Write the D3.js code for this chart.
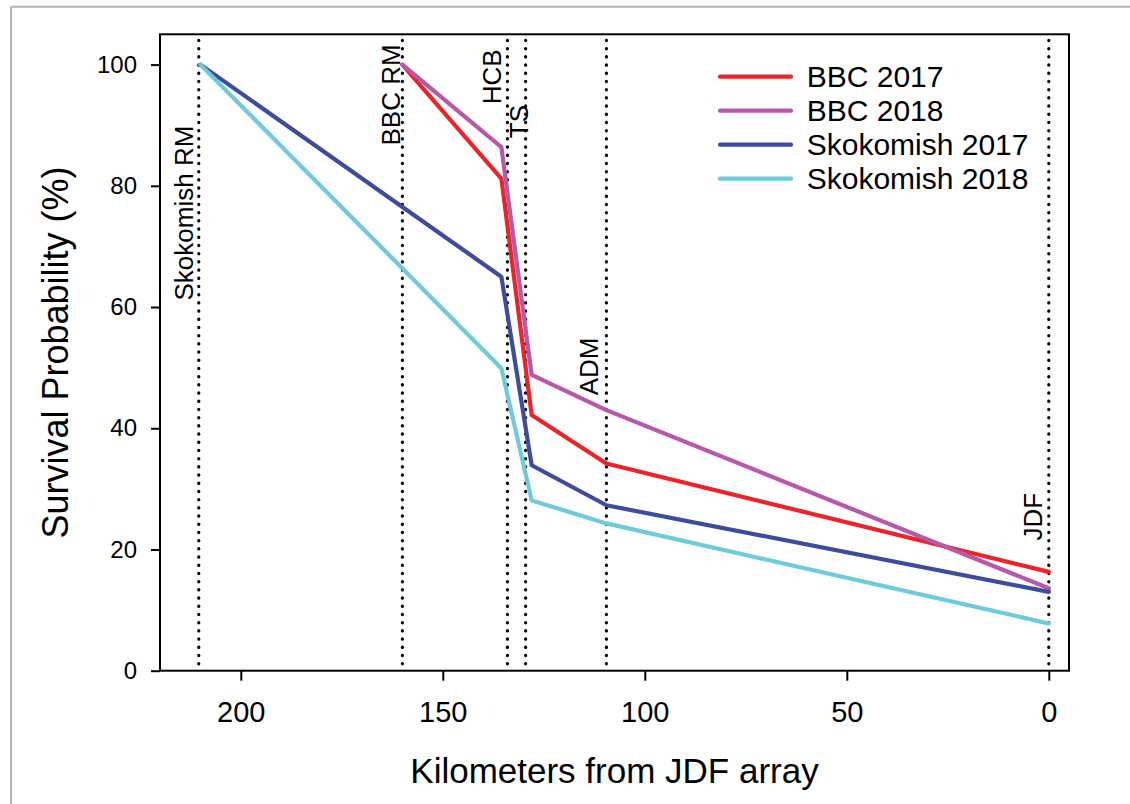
<!DOCTYPE html>
<html>
<head>
<meta charset="utf-8">
<script src="https://cdn.jsdelivr.net/npm/d3@7"></script>
<style>
  html, body { margin: 0; padding: 0; background: #fff; }
  svg { display: block; font-family: "Liberation Sans", Arial, sans-serif; }
</style>
</head>
<body>
<svg id="chart" width="1130" height="804"></svg>
<script>
// ---- data ----
const seriesNames = ["BBC 2017", "BBC 2018", "Skokomish 2017", "Skokomish 2018"];
const seriesColors = ["#EE2229", "#B957A9", "#3D4C9E", "#6DCBDA"];
const bbcKm = [160, 135.5, 128, 109.5, 0];
const skokKm = [210, 135.5, 128, 109.5, 0];
const bbc2017 = [100, 81.2, 42.2, 34.2, 16.3];
const bbc2018 = [100, 86.4, 48.8, 43.0, 13.6];
const skok2017 = [100, 65.0, 33.9, 27.3, 13.0];
const skok2018 = [100, 49.9, 28.1, 24.3, 7.8];
const seriesKm = [bbcKm, bbcKm, skokKm, skokKm];
const seriesVals = [bbc2017, bbc2018, skok2017, skok2018];

const siteNames = ["Skokomish RM", "BBC RM", "HCB", "TS", "ADM", "JDF"];
const siteKm = [210.4, 160, 134, 129.5, 109.5, 0];
const siteLabelKm = [211.8, 160.7, 135.7, 128.8, 111.7, 1.7];
const siteLabelY = [75.5, 95, 98, 90.6, 50.2, 25.4];

const xTicks = [200, 150, 100, 50, 0];
const yTicks = [0, 20, 40, 60, 80, 100];
const xTitle = "Kilometers from JDF array";
const yTitle = "Survival Probability (%)";

// ---- layout ----
const svg = d3.select("#chart");
const L = 160, R = 1069, T = 34.3, B = 670.7;
const x = d3.scaleLinear().domain([220, -5]).range([L, R]);
const y = d3.scaleLinear().domain([0, 105]).range([B, T]);

// outer gray frame (partial, as in reference)
svg.append("line").attr("x1", 11).attr("x2", 11).attr("y1", 6.7).attr("y2", 804)
  .attr("stroke", "#b3b3b3").attr("stroke-width", 2);
svg.append("line").attr("x1", 11).attr("x2", 1130).attr("y1", 6.7).attr("y2", 6.7)
  .attr("stroke", "#b3b3b3").attr("stroke-width", 2);

svg.append("defs").append("clipPath").attr("id", "clip")
  .append("rect").attr("x", L).attr("y", T).attr("width", R - L).attr("height", B - T);

// dotted site lines
const plot = svg.append("g").attr("clip-path", "url(#clip)");
plot.selectAll("line.site").data(siteKm).join("line")
  .attr("class", "site")
  .attr("x1", d => x(d)).attr("x2", d => x(d))
  .attr("y1", T + 6).attr("y2", B)
  .attr("stroke", "#000").attr("stroke-width", 3.2)
  .attr("stroke-linecap", "round")
  .attr("stroke-dasharray", "0.3,7.9");

// series lines
const line = d3.line().x(d => x(d[0])).y(d => y(d[1]));
seriesNames.forEach((name, i) => {
  const pts = seriesKm[i].map((k, j) => [k, seriesVals[i][j]]);
  plot.append("path").datum(pts)
    .attr("d", line)
    .attr("fill", "none")
    .attr("stroke", seriesColors[i])
    .attr("stroke-width", 4.2)
    .attr("stroke-linejoin", "round")
    .attr("stroke-linecap", "round");
});

// site labels (rotated)
siteNames.forEach((name, i) => {
  const tx = x(siteLabelKm[i]), ty = y(siteLabelY[i]);
  svg.append("text")
    .attr("transform", `translate(${tx},${ty}) rotate(-90)`)
    .attr("text-anchor", "middle")
    .attr("font-size", 26)
    .attr("fill", "#000")
    .text(name);
});

// box
svg.append("rect").attr("x", L).attr("y", T).attr("width", R - L).attr("height", B - T)
  .attr("fill", "none").attr("stroke", "#000").attr("stroke-width", 2);

// axes
const yAxis = svg.append("g").attr("transform", `translate(${L},0)`)
  .call(d3.axisLeft(y).tickValues(yTicks).tickSize(9).tickPadding(14));
yAxis.select(".domain").remove();
yAxis.selectAll("line").attr("stroke-width", 2);
yAxis.selectAll("text").attr("font-size", 24).attr("font-family", "Liberation Sans, Arial, sans-serif").attr("fill", "#000");

const xAxis = svg.append("g").attr("transform", `translate(0,${B})`)
  .call(d3.axisBottom(x).tickValues(xTicks).tickSize(10));
xAxis.select(".domain").remove();
xAxis.selectAll("line").attr("stroke-width", 2);
xAxis.selectAll("text").attr("font-size", 29).attr("font-family", "Liberation Sans, Arial, sans-serif")
  .attr("fill", "#000").attr("dy", null).attr("y", 51);

// axis titles
svg.append("text").attr("x", (L + R) / 2).attr("y", 783)
  .attr("text-anchor", "middle").attr("font-size", 35).text(xTitle);
svg.append("text")
  .attr("transform", `translate(68,${(T + B) / 2}) rotate(-90)`)
  .attr("text-anchor", "middle").attr("font-size", 36).text(yTitle);

// legend
const legX1 = 720, legX2 = 791, legTextX = 806.7, legY0 = 76.7, legDy = 34;
seriesNames.forEach((name, i) => {
  const ly = legY0 + i * legDy;
  svg.append("line").attr("x1", legX1).attr("x2", legX2).attr("y1", ly).attr("y2", ly)
    .attr("stroke", seriesColors[i]).attr("stroke-width", 4.2).attr("stroke-linecap", "round");
  svg.append("text").attr("x", legTextX).attr("y", ly).attr("dy", "0.35em")
    .attr("font-size", 30).text(name);
});
</script>
</body>
</html>
